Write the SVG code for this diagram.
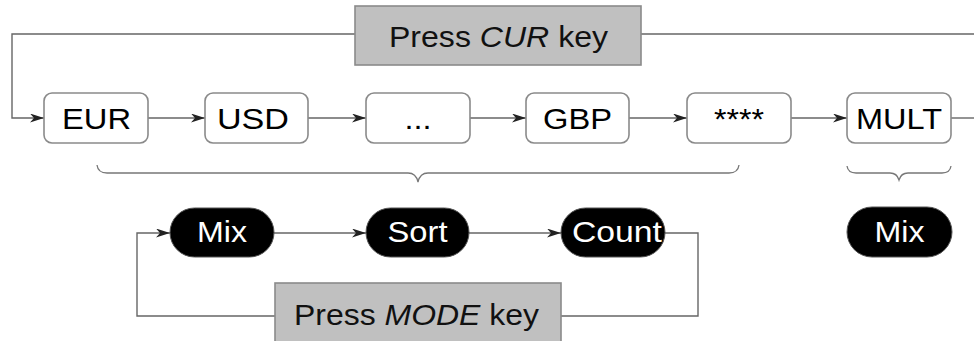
<svg xmlns="http://www.w3.org/2000/svg" width="974" height="341" viewBox="0 0 974 341">
<style>
.box{fill:#fff;stroke:#8a8a8a;stroke-width:1.6}
.key{fill:#c0c0c0;stroke:#8a8a8a;stroke-width:1.6}
.pill{fill:#000;stroke:#555;stroke-width:1}
.t{font-family:"Liberation Sans",Arial,sans-serif;font-size:29px;text-anchor:middle;fill:#000}
.w{fill:#fff}
.k{font-family:"Liberation Sans",Arial,sans-serif;font-size:29px;text-anchor:middle;fill:#111}
.c{fill:none;stroke:#666;stroke-width:1.4}
.br{fill:none;stroke:#777;stroke-width:1.3}
</style>
<defs>
<marker id="ah" viewBox="0 0 14 9" refX="14" refY="4.5" markerWidth="14" markerHeight="9" markerUnits="userSpaceOnUse" orient="auto">
<path d="M0,0 L14,4.5 L0,9 L4,4.5 Z" fill="#222"/>
</marker>
</defs>
<g id="connectors">
<path class="c" d="M641,34 H974"/>
<path class="c" d="M355,34 H12 V118 H44" marker-end="url(#ah)"/>
<path class="c" d="M148,118 H205" marker-end="url(#ah)"/>
<path class="c" d="M308,118 H366" marker-end="url(#ah)"/>
<path class="c" d="M470,118 H526" marker-end="url(#ah)"/>
<path class="c" d="M629,118 H687" marker-end="url(#ah)"/>
<path class="c" d="M791,118 H847" marker-end="url(#ah)"/>
<path class="c" d="M951,118 H974"/>
<path class="c" d="M274,233 H366" marker-end="url(#ah)"/>
<path class="c" d="M469,233 H561" marker-end="url(#ah)"/>
<path class="c" d="M665,233 H698 V316 H561"/>
<path class="c" d="M275,316 H137 V233 H170" marker-end="url(#ah)"/>
<path class="br" d="M97,165 Q98,173 107,173 H408 Q416,173 418,182 Q420,173 428,173 H729 Q738,173 739,165"/>
<path class="br" d="M847,166 Q848,173 856,173 H890 Q897,173 899,180 Q901,173 908,173 H942 Q950,173 951,166"/>
</g>
<g id="key-cur">
<rect class="key" x="355" y="6" width="286" height="59"/>
<text class="k" x="498.5" y="47" textLength="219" lengthAdjust="spacingAndGlyphs">Press <tspan font-style="italic">CUR</tspan> key</text>
</g>
<g id="key-mode">
<rect class="key" x="275" y="283" width="286" height="60"/>
<text class="k" x="416.5" y="325" textLength="245" lengthAdjust="spacingAndGlyphs">Press <tspan font-style="italic">MODE</tspan> key</text>
</g>
<g id="eur"><rect class="box" x="44" y="93" width="104" height="50" rx="8"/><text class="t" x="96.5" y="129" textLength="69" lengthAdjust="spacingAndGlyphs">EUR</text></g>
<g id="usd"><rect class="box" x="205" y="93" width="103" height="50" rx="8"/><text class="t" x="253" y="129" textLength="72" lengthAdjust="spacingAndGlyphs">USD</text></g>
<g id="dots"><rect class="box" x="366" y="93" width="104" height="50" rx="8"/><text class="t" x="418" y="129" textLength="27" lengthAdjust="spacingAndGlyphs">...</text></g>
<g id="gbp"><rect class="box" x="526" y="93" width="103" height="50" rx="8"/><text class="t" x="577.5" y="129" textLength="69" lengthAdjust="spacingAndGlyphs">GBP</text></g>
<g id="stars"><rect class="box" x="687" y="93" width="104" height="50" rx="8"/><text class="t" x="739" y="129" textLength="50" lengthAdjust="spacingAndGlyphs">****</text></g>
<g id="mult"><rect class="box" x="847" y="93" width="104" height="50" rx="8"/><text class="t" x="899" y="129" textLength="86" lengthAdjust="spacingAndGlyphs">MULT</text></g>
<g id="mix1"><rect class="pill" x="170" y="208" width="104" height="49" rx="24.5"/><text class="t w" x="222" y="242" textLength="50" lengthAdjust="spacingAndGlyphs">Mix</text></g>
<g id="sort"><rect class="pill" x="366" y="208" width="103" height="49" rx="24.5"/><text class="t w" x="417.5" y="242" textLength="60" lengthAdjust="spacingAndGlyphs">Sort</text></g>
<g id="count"><rect class="pill" x="561" y="208" width="104" height="49" rx="24.5"/><text class="t w" x="617" y="242" textLength="90" lengthAdjust="spacingAndGlyphs">Count</text></g>
<g id="mix2"><rect class="pill" x="847" y="207" width="105" height="50" rx="25"/><text class="t w" x="899.5" y="242" textLength="50" lengthAdjust="spacingAndGlyphs">Mix</text></g>
</svg>
